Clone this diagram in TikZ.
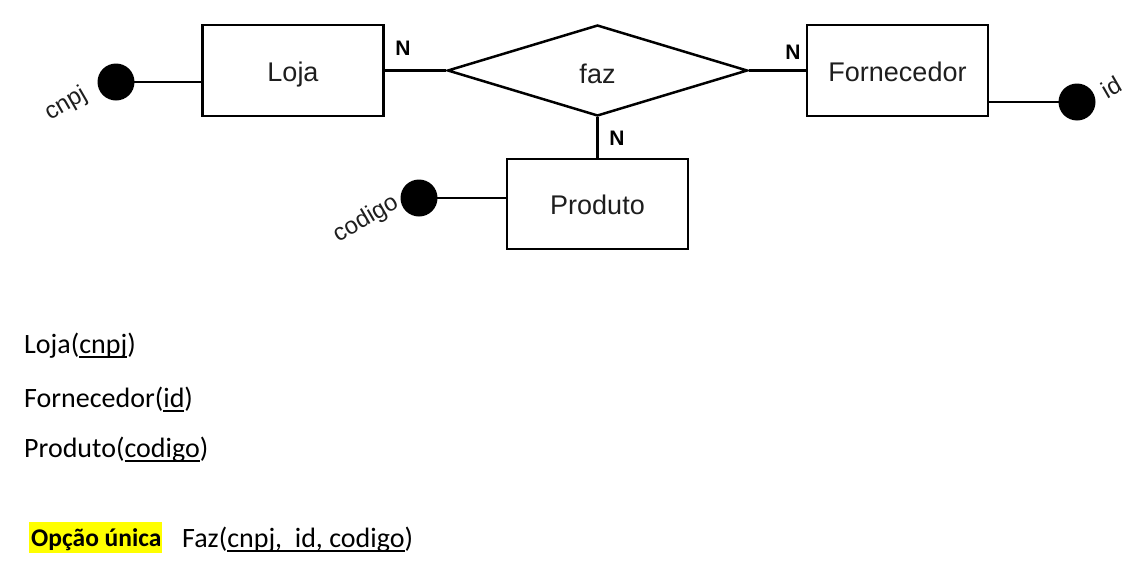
\documentclass[tikz,border=0pt]{standalone}
\usepackage{fontspec}
\usetikzlibrary{shapes.geometric}
\newfontfamily\diagfont{Liberation Sans}
\newfontfamily\bodyfont{Carlito}
\newcommand\myul[1]{\setbox0\hbox{#1}\rlap{\vrule height -3pt depth 5pt width \wd0}\box0}
\definecolor{diagtext}{RGB}{30,30,30}
\definecolor{hl}{RGB}{255,255,0}
\tikzset{
  entity/.style={draw=black, line width=2.5pt, inner sep=0pt, minimum width=181pt, minimum height=91pt,
    text height=21pt, text depth=0pt,
    font=\diagfont\fontsize{27}{32}\selectfont, text=diagtext},
  rel/.style={draw=black, line width=2.5pt, shape=diamond, inner sep=0pt, minimum width=300pt, minimum height=91pt,
    text height=21pt, text depth=0pt,
    aspect=3.3, font=\diagfont\fontsize{27}{32}\selectfont, text=diagtext},
  conn/.style={draw=black, line width=2.5pt},
  attrdot/.style={circle, fill=black, inner sep=0pt, minimum size=37pt},
  attrlabel/.style={font=\diagfont\fontsize{24}{28}\selectfont, text=diagtext, rotate=30, inner sep=0pt},
  card/.style={font=\diagfont\bfseries\fontsize{21}{24}\selectfont, text=black, inner sep=0pt},
  bodytext/.style={font=\bodyfont\fontsize{28}{34}\selectfont, text=black, anchor=base west, inner sep=0pt},
}
\begin{document}
\begin{tikzpicture}[x=1pt,y=-1pt]
\useasboundingbox (0,0) rectangle (1138,581);
% entities
\node[entity] (loja) at (293,70.5) {Loja};
\node[entity] (forn) at (897.5,70.5) {Fornecedor};
\node[entity, minimum height=90pt] (prod) at (597.5,204) {Produto};
\node[rel] (faz) at (597.5,70.5) {\raisebox{-2pt}{faz}};
% connectors
\draw[conn] (loja.east) -- (faz.west);
\draw[conn] (faz.east) -- (forn.west);
\draw[conn] (faz.south) -- (prod.north);
% attributes
\node[attrdot] (cnpjdot) at (116,82) {};
\node[attrdot] (iddot) at (1077,102) {};
\node[attrdot] (coddot) at (419,198) {};
\draw[conn] (cnpjdot.center) -- (cnpjdot -| loja.west);
\draw[conn] (iddot.center) -- (iddot -| forn.east);
\draw[conn] (coddot.center) -- (coddot -| prod.west);
\node[attrlabel] (cnpjlbl) at (66,104) {cnpj};
\node[attrlabel] (idlbl) at (1111,87) {id};
\node[attrlabel] (codlbl) at (366,219) {codigo};
% cardinalities
\node[card] (n1) at (403,48) {N};
\node[card] (n2) at (793,52) {N};
\node[card] (n3) at (617,138) {N};
% relational schema
\node[bodytext] (t1) at (24,353) {Loja(\myul{cnpj})};
\node[bodytext] (t2) at (24,407) {Fornecedor(\myul{id})};
\node[bodytext] (t3) at (24,457) {Produto(\myul{codigo})};
\node[fill=hl, inner sep=0pt, minimum width=133pt, minimum height=31pt] (hlbox) at (95.5,537.5) {};
\node[bodytext, font=\bodyfont\bfseries\fontsize{25.5}{30}\selectfont] (opt) at (31,546) {Opção única};
\node[bodytext] (t4) at (182,547) {Faz(\myul{cnpj,\ \ id, codigo})};
\end{tikzpicture}
\end{document}
